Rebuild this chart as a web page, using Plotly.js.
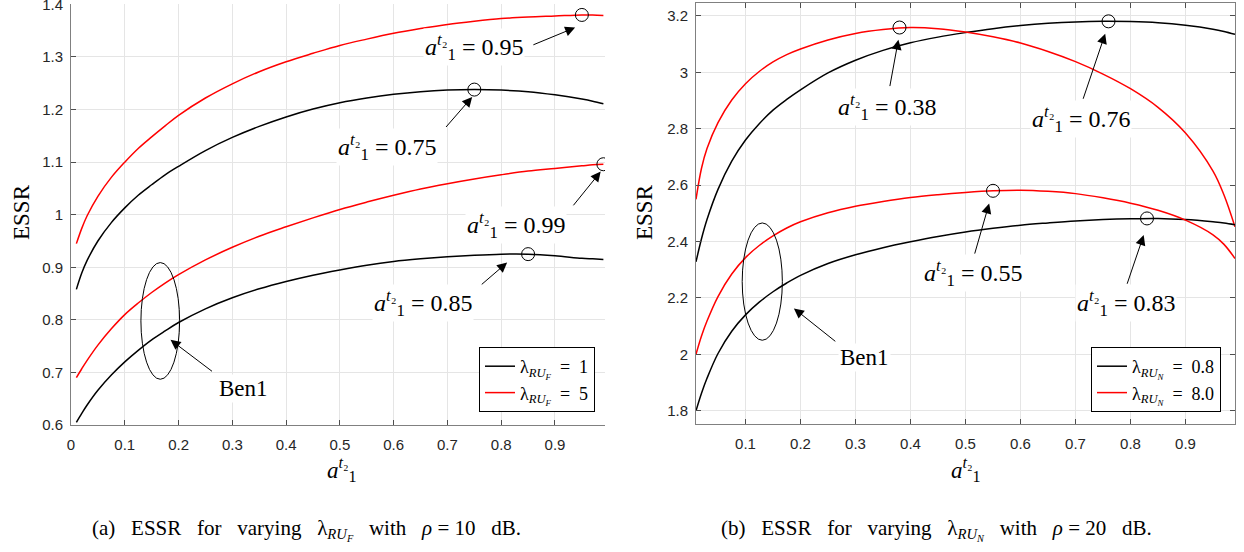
<!DOCTYPE html>
<html>
<head>
<meta charset="utf-8">
<script src="https://cdn.plot.ly/plotly-3.0.1.min.js"></script>
<style>html,body{margin:0;padding:0;background:#fff;}#chart{width:1244px;height:552px;}</style>
</head>
<body>
<div id="chart"></div>
<script>
// ---------- data ----------
const xVals = [0.01,0.02,0.03,0.05,0.075,0.1,0.125,0.15,0.175,0.2,0.25,0.3,0.35,0.4,0.45,0.5,0.55,0.6,0.65,0.7,0.75,0.8,0.85,0.9,0.95,0.97,0.99];

// (a) rho = 10 dB
const essrF1 = [0.858,0.889,0.913,0.950,0.985,1.013,1.037,1.057,1.076,1.092,1.122,1.147,1.168,1.186,1.201,1.213,1.222,1.229,1.234,1.237,1.238,1.237,1.234,1.228,1.220,1.216,1.211];
const essrF5 = [0.945,0.974,0.998,1.035,1.071,1.100,1.126,1.148,1.169,1.189,1.222,1.249,1.272,1.291,1.307,1.322,1.334,1.345,1.354,1.362,1.368,1.373,1.376,1.378,1.380,1.380,1.379];
const ben1F1 = [0.605,0.622,0.638,0.666,0.695,0.720,0.742,0.762,0.779,0.795,0.821,0.842,0.859,0.873,0.885,0.895,0.904,0.911,0.916,0.920,0.923,0.925,0.925,0.922,0.917,0.916,0.915];
const ben1F5 = [0.690,0.707,0.723,0.752,0.783,0.810,0.832,0.852,0.870,0.886,0.914,0.938,0.959,0.977,0.994,1.010,1.024,1.037,1.049,1.059,1.068,1.076,1.083,1.088,1.093,1.095,1.096];

// (b) rho = 20 dB
const essrN08 = [2.328,2.410,2.478,2.585,2.685,2.760,2.818,2.866,2.904,2.938,2.998,3.043,3.078,3.105,3.125,3.141,3.155,3.166,3.174,3.179,3.181,3.180,3.176,3.167,3.153,3.145,3.135];
const essrN8  = [2.550,2.660,2.730,2.822,2.902,2.960,3.003,3.037,3.063,3.083,3.115,3.138,3.152,3.159,3.155,3.143,3.126,3.104,3.074,3.038,2.994,2.942,2.876,2.785,2.650,2.565,2.452];
const ben1N08 = [1.800,1.862,1.915,2.003,2.082,2.140,2.185,2.222,2.253,2.280,2.322,2.353,2.378,2.399,2.418,2.434,2.447,2.458,2.466,2.473,2.478,2.481,2.482,2.478,2.470,2.466,2.460];
const ben1N8  = [2.000,2.065,2.118,2.205,2.285,2.343,2.386,2.420,2.448,2.470,2.502,2.525,2.542,2.556,2.566,2.574,2.580,2.582,2.578,2.570,2.555,2.536,2.511,2.476,2.424,2.390,2.340];

// optimum markers
const optXa = [0.95, 0.75, 0.99, 0.85];
const optYa = [1.380, 1.238, 1.096, 0.925];
const optXb = [0.38, 0.76, 0.55, 0.83];
const optYb = [3.159, 3.181, 2.580, 2.482];

// tick labels
const xTicksA = [0,0.1,0.2,0.3,0.4,0.5,0.6,0.7,0.8,0.9];
const xTickTextA = ['0','0.1','0.2','0.3','0.4','0.5','0.6','0.7','0.8','0.9'];
const xTicksB = [0.1,0.2,0.3,0.4,0.5,0.6,0.7,0.8,0.9];
const xTickTextB = ['0.1','0.2','0.3','0.4','0.5','0.6','0.7','0.8','0.9'];
const yTicksA = [0.6,0.7,0.8,0.9,1,1.1,1.2,1.3,1.4];
const yTickTextA = ['0.6','0.7','0.8','0.9','1','1.1','1.2','1.3','1.4'];
const yTicksB = [1.8,2,2.2,2.4,2.6,2.8,3,3.2];
const yTickTextB = ['1.8','2','2.2','2.4','2.6','2.8','3','3.2'];

// annotation labels: [text x, text y, arrow tail x, tail y, tip x, tip y, label]
const labelsA = [
  [0.75, 1.319, 0.857, 1.322, 0.9375, 1.356, '0.95'],
  [0.588, 1.129, 0.695, 1.164, 0.746, 1.224, '0.75'],
  [0.827, 0.980, 0.932, 1.015, 0.985, 1.082, '0.99'],
  [0.654, 0.832, 0.761, 0.865, 0.811, 0.909, '0.85']
];
const labelsB = [
  [0.358, 2.877, 0.362, 2.946, 0.378, 3.116, '0.38'],
  [0.710, 2.836, 0.713, 2.901, 0.754, 3.137, '0.76'],
  [0.514, 2.289, 0.516, 2.352, 0.543, 2.535, '0.55'],
  [0.791, 2.183, 0.793, 2.245, 0.824, 2.423, '0.83']
];
const ben1A = [0.32, 0.670, 0.265, 0.70, 0.185, 0.762];
const ben1B = [0.317, 1.989, 0.266, 2.042, 0.188, 2.163];
const ellipseA = [0.13, 0.687, 0.202, 0.909];
const ellipseB = [0.094, 2.050, 0.167, 2.466];

// ---------- traces ----------
const SERIF = 'Liberation Serif, Times New Roman, serif';
const SANS = 'Liberation Sans, Arial, sans-serif';
function line(x, y, color, xa, ya, name, show, leg) {
  return {x: x, y: y, type: 'scatter', mode: 'lines', xaxis: xa, yaxis: ya,
    line: {color: color, width: 1.5, shape: 'spline', smoothing: 1},
    name: name, showlegend: show, legend: leg, hoverinfo: 'skip'};
}
const SP = '&nbsp;';
const EQ = SP + SP + '=' + SP + SP;
const nameF1 = 'λ<sub><i>RU<sub>F</sub></i></sub>' + EQ + '1';
const nameF5 = 'λ<sub><i>RU<sub>F</sub></i></sub>' + EQ + '5';
const nameN08 = 'λ<sub><i>RU<sub>N</sub></i></sub>' + EQ + '0.8';
const nameN8 = 'λ<sub><i>RU<sub>N</sub></i></sub>' + EQ + '8.0';

const data = [
  line(xVals, essrF1, '#000000', 'x', 'y', nameF1, true, 'legend'),
  line(xVals, essrF5, '#ff0000', 'x', 'y', nameF5, true, 'legend'),
  line(xVals, ben1F1, '#000000', 'x', 'y', nameF1, false, 'legend'),
  line(xVals, ben1F5, '#ff0000', 'x', 'y', nameF5, false, 'legend'),
  {x: optXa, y: optYa, type: 'scatter', mode: 'markers', xaxis: 'x', yaxis: 'y', showlegend: false,
   marker: {symbol: 'circle-open', size: 13, color: '#000', line: {width: 1}}, hoverinfo: 'skip'},
  line(xVals, essrN08, '#000000', 'x2', 'y2', nameN08, true, 'legend2'),
  line(xVals, essrN8, '#ff0000', 'x2', 'y2', nameN8, true, 'legend2'),
  line(xVals, ben1N08, '#000000', 'x2', 'y2', nameN08, false, 'legend2'),
  line(xVals, ben1N8, '#ff0000', 'x2', 'y2', nameN8, false, 'legend2'),
  {x: optXb, y: optYb, type: 'scatter', mode: 'markers', xaxis: 'x2', yaxis: 'y2', showlegend: false,
   marker: {symbol: 'circle-open', size: 13, color: '#000', line: {width: 1}}, hoverinfo: 'skip'}
];

// ---------- annotations ----------
const aLabel = '<i>a</i><sup><i>t</i>₂</sup><sub>1</sub>';
const annotations = [];
function addLabels(list, xr, yr) {
  list.forEach(function(l) {
    annotations.push({x: l[0], y: l[1], xref: xr, yref: yr, xanchor: 'center', yanchor: 'middle',
      text: aLabel + SP + '=' + SP + l[6], showarrow: false,
      font: {family: SERIF, size: 24, color: '#000'}, bgcolor: '#ffffff', borderpad: 1});
    annotations.push({x: l[4], y: l[5], ax: l[2], ay: l[3], xref: xr, yref: yr, axref: xr, ayref: yr,
      text: '', showarrow: true, arrowhead: 2, arrowsize: 2, arrowwidth: 1, arrowcolor: '#000', standoff: 0});
  });
}
addLabels(labelsA, 'x', 'y');
addLabels(labelsB, 'x2', 'y2');
[[ben1A, 'x', 'y'], [ben1B, 'x2', 'y2']].forEach(function(b) {
  const v = b[0];
  annotations.push({x: v[0], y: v[1], xref: b[1], yref: b[2], xanchor: 'center', yanchor: 'middle',
    text: 'Ben1', showarrow: false, font: {family: SERIF, size: 23, color: '#000'}, bgcolor: '#ffffff'});
  annotations.push({x: v[4], y: v[5], ax: v[2], ay: v[3], xref: b[1], yref: b[2], axref: b[1], ayref: b[2],
    text: '', showarrow: true, arrowhead: 2, arrowsize: 2, arrowwidth: 1, arrowcolor: '#000', standoff: 0});
});
function paperText(px, py, text, size, angle) {
  annotations.push({x: px / 1244, y: 1 - py / 552, xref: 'paper', yref: 'paper', xanchor: 'center', yanchor: 'middle',
    text: text, textangle: angle || 0, showarrow: false, font: {family: SERIF, size: size, color: '#000'}});
}
paperText(22, 212, 'ESSR', 23, -90);
paperText(645, 212, 'ESSR', 23, -90);
paperText(342, 469, aLabel, 23);
paperText(966, 469, aLabel, 23);
const W = SP + SP + ' ';
paperText(306, 530, '(a)' + W + 'ESSR' + W + 'for' + W + 'varying' + W + 'λ<sub><i>RU<sub>F</sub></i></sub>' + W + 'with' + W + '<i>ρ</i>' + SP + '=' + SP + '10' + W + 'dB.', 21);
paperText(936, 530, '(b)' + W + 'ESSR' + W + 'for' + W + 'varying' + W + 'λ<sub><i>RU<sub>N</sub></i></sub>' + W + 'with' + W + '<i>ρ</i>' + SP + '=' + SP + '20' + W + 'dB.', 21);

const shapes = [
  {type: 'circle', xref: 'x', yref: 'y', x0: ellipseA[0], y0: ellipseA[1], x1: ellipseA[2], y1: ellipseA[3], line: {color: '#000', width: 1}},
  {type: 'circle', xref: 'x2', yref: 'y2', x0: ellipseB[0], y0: ellipseB[1], x1: ellipseB[2], y1: ellipseB[3], line: {color: '#000', width: 1}}
];

function axis(domain, range, tv, tt, mirror, standoff) {
  return {domain: domain, range: range, tickvals: tv, ticktext: tt, showgrid: true, gridcolor: '#e5e5e5', gridwidth: 1,
    zeroline: false, showline: true, linecolor: '#808080', linewidth: 1, mirror: mirror, ticks: 'inside', ticklen: 5,
    tickcolor: '#4d4d4d', tickfont: {family: SANS, size: 15, color: '#262626'}, ticklabelstandoff: standoff,
    ticklabeloverflow: 'allow', fixedrange: true};
}

const legendStyle = {font: {family: SERIF, size: 18, color: '#000'}, bgcolor: '#ffffff', bordercolor: '#000', borderwidth: 1,
  xref: 'paper', yref: 'paper', xanchor: 'right', yanchor: 'bottom', tracegroupgap: 0};

const layout = {
  width: 1244, height: 552,
  margin: {l: 0, r: 0, t: 0, b: 0},
  paper_bgcolor: '#ffffff', plot_bgcolor: '#ffffff',
  xaxis: axis([71/1244, 605/1244], [0, 0.993], xTicksA, xTickTextA, false, 6),
  yaxis: axis([1 - 425/552, 1 - 4/552], [0.6, 1.4008], yTicksA, yTickTextA, false, 4),
  xaxis2: axis([696/1244, 1235/1244], [0.01, 0.99], xTicksB, xTickTextB, 'ticks', 6),
  yaxis2: axis([1 - 424/552, 1 - 3/552], [1.753, 3.246], yTicksB, yTickTextB, 'ticks', 4),
  legend: Object.assign({x: 595/1244, y: 1 - 412/552}, legendStyle),
  legend2: Object.assign({x: 1221/1244, y: 1 - 412/552}, legendStyle),
  annotations: annotations,
  shapes: shapes,
  showlegend: true
};
layout.xaxis.anchor = 'y'; layout.yaxis.anchor = 'x';
layout.xaxis2.anchor = 'y2'; layout.yaxis2.anchor = 'x2';

Plotly.newPlot('chart', data, layout, {displayModeBar: false, staticPlot: true});
</script>
</body>
</html>
